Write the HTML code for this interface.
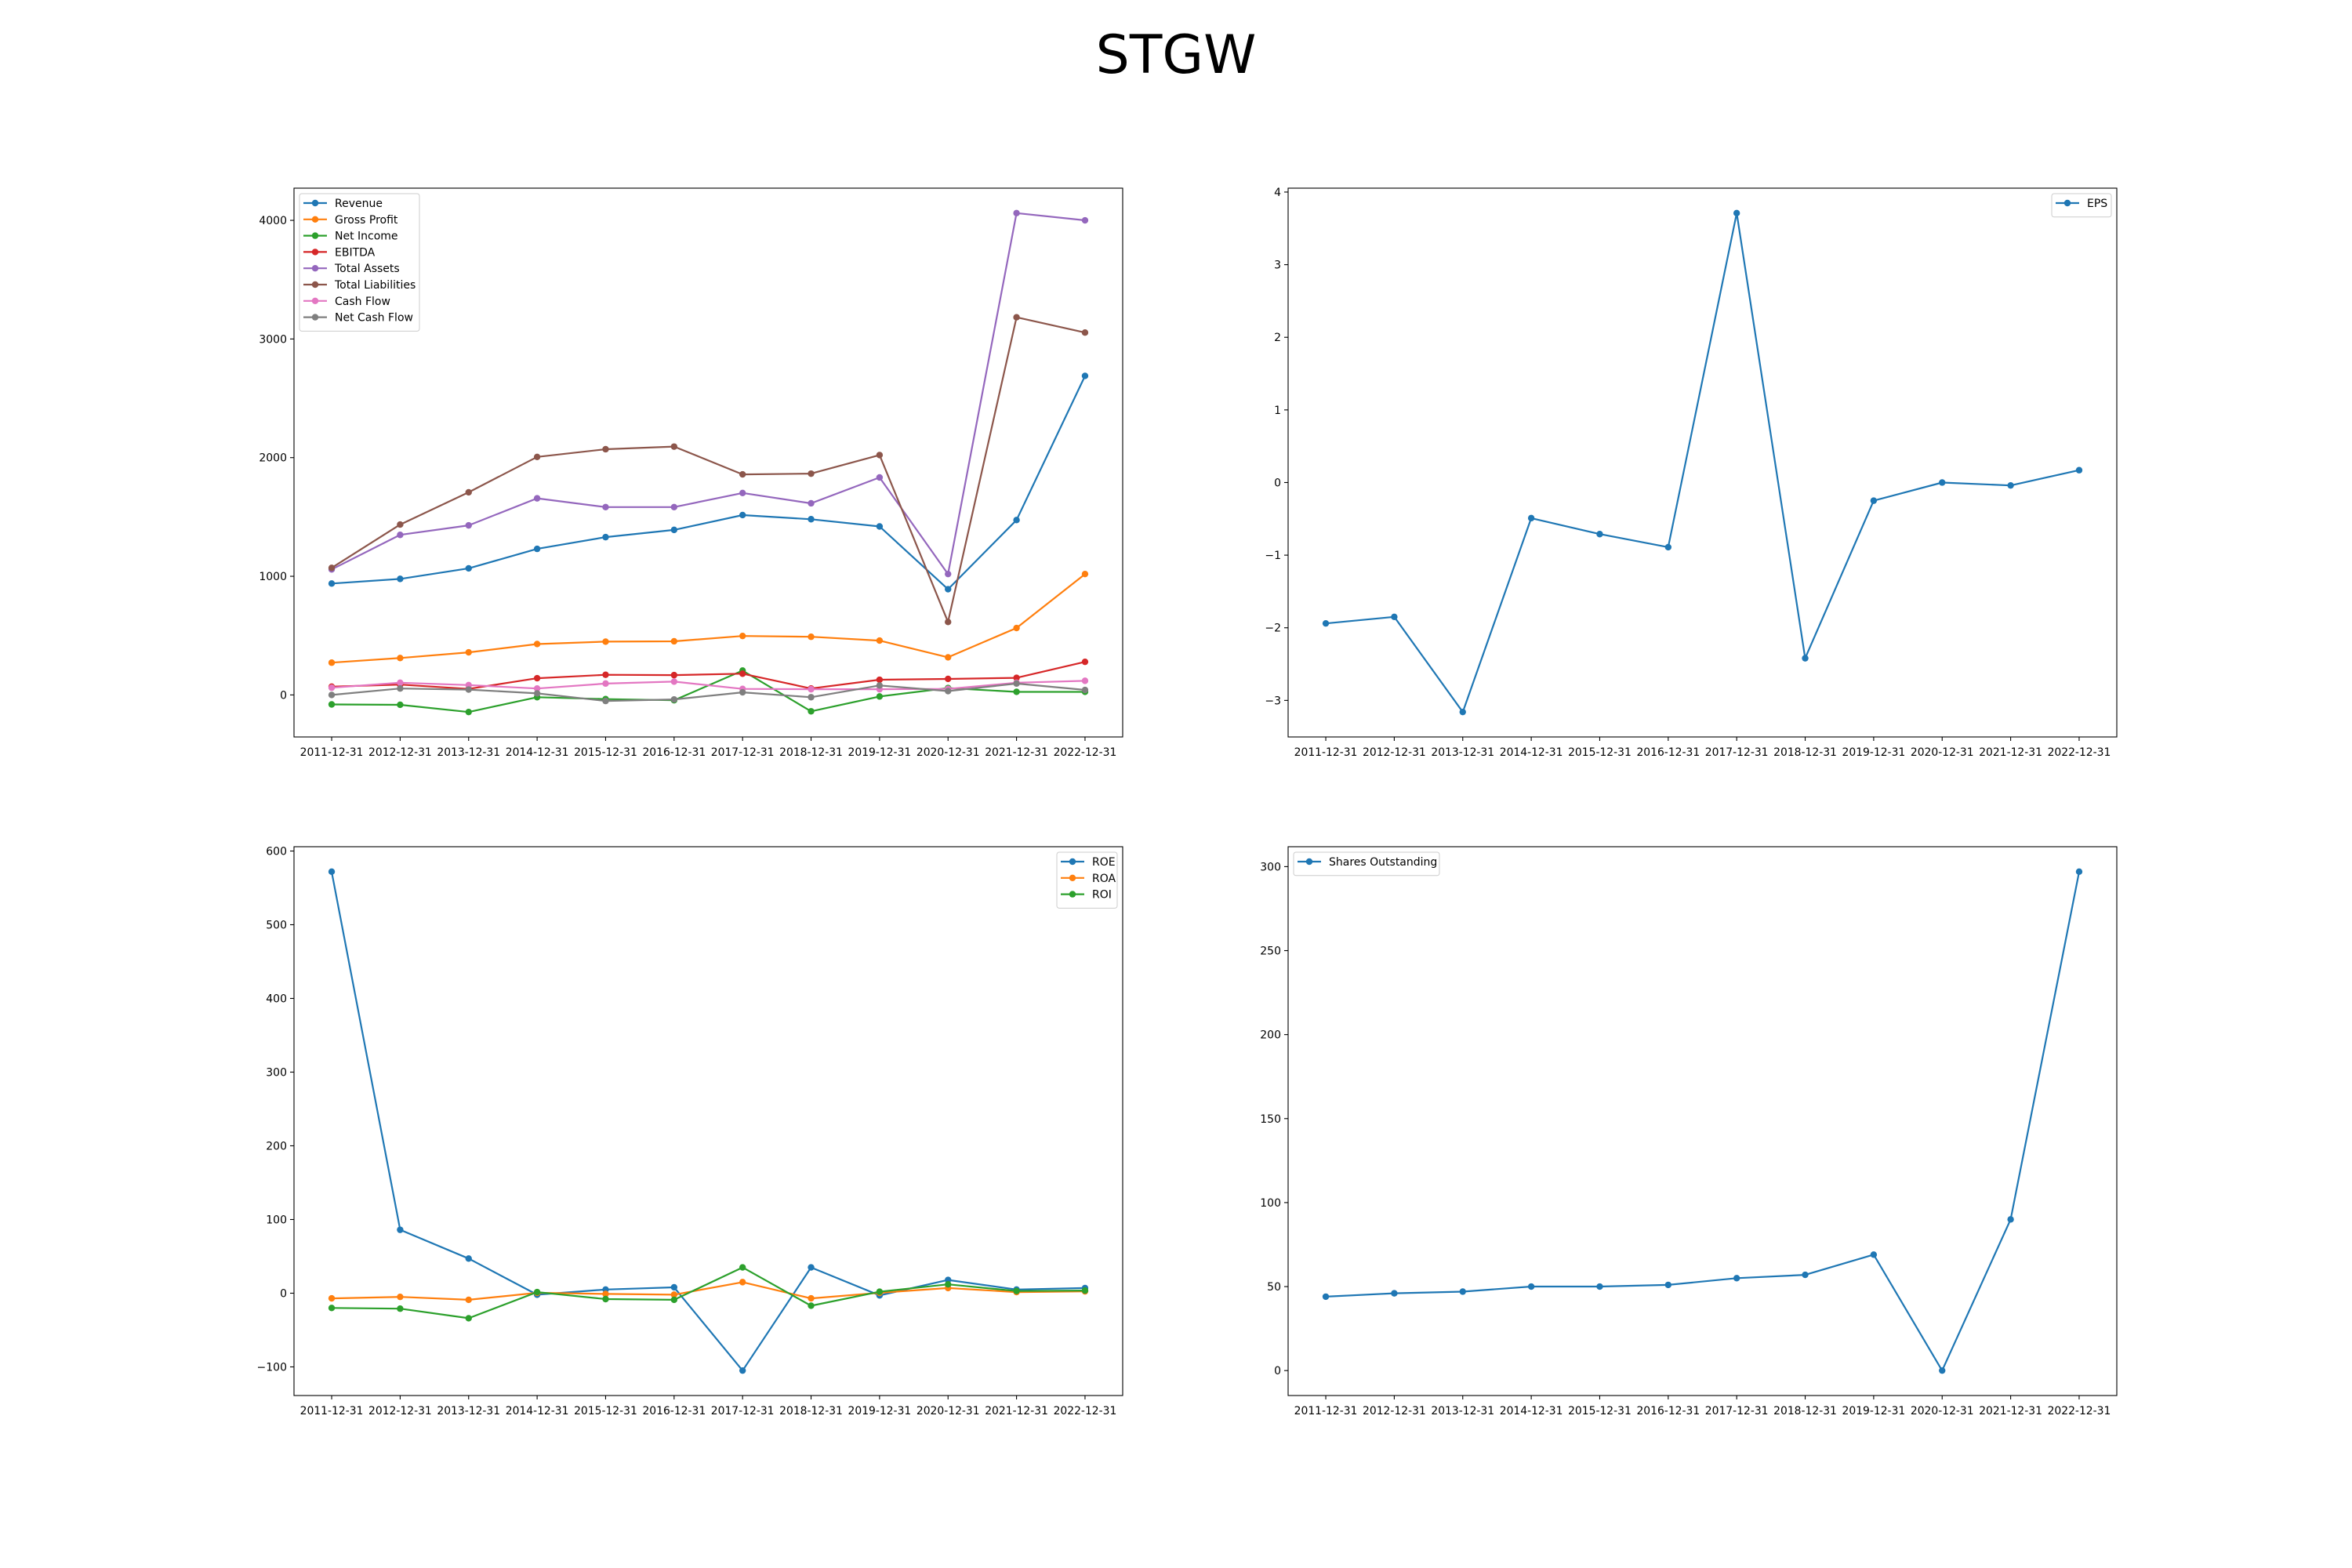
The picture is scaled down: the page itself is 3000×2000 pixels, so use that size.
<!DOCTYPE html>
<html><head><meta charset="utf-8"><style>
html,body{margin:0;padding:0;background:#fff;}
svg{display:block;font-family:"DejaVu Sans","Liberation Sans",sans-serif;}
</style></head><body>
<svg id="fig" width="3000" height="2000" viewBox="0 0 3000 2000" xmlns="http://www.w3.org/2000/svg">
<rect width="3000" height="2000" fill="#fff"/>
<text x="1500" y="93" font-size="68" text-anchor="middle" fill="#000">STGW</text>
</svg>
<script>
const categories = ["2011-12-31","2012-12-31","2013-12-31","2014-12-31","2015-12-31","2016-12-31","2017-12-31","2018-12-31","2019-12-31","2020-12-31","2021-12-31","2022-12-31"];
const revenue = [939,978,1067,1231,1330,1391,1516,1481,1420,891,1474,2689];
const grossProfit = [272,311,359,429,449,452,497,490,458,317,564,1019];
const netIncome = [-80,-83,-144,-19,-35,-45,205,-138,-13,58,26,26];
const ebitda = [70,87,51,141,170,167,179,54,128,135,144,279];
const totalAssets = [1058,1349,1429,1657,1583,1583,1702,1615,1833,1019,4061,4000];
const totalLiabilities = [1071,1436,1708,2006,2071,2093,1859,1865,2022,615,3183,3054];
const cashFlow = [61,103,83,54,96,112,51,48,48,51,103,119];
const netCashFlow = [0,54,45,13,-51,-38,22,-19,80,32,96,42];
const eps = [-1.94,-1.85,-3.16,-0.49,-0.71,-0.89,3.71,-2.42,-0.25,0.0,-0.04,0.17];
const roe = [572,86,47,-2,5,8,-105,35,-3,18,5,7];
const roa = [-7,-5,-9,0.5,-1,-2,15,-7,0.5,7,1.5,2.5];
const roi = [-20,-21,-34,1.5,-8,-9,35,-17,2,12,3,3.6];
const shares = [44,46,47,50,50,51,55,57,69,0,90,297];
const ticks1 = [0,1000,2000,3000,4000];
const ticks2 = [-3,-2,-1,0,1,2,3,4];
const ticks3 = [-100,0,100,200,300,400,500,600];
const ticks4 = [0,50,100,150,200,250,300];

const NS="http://www.w3.org/2000/svg";
const fig=document.getElementById('fig');
const C=['#1f77b4','#ff7f0e','#2ca02c','#d62728','#9467bd','#8c564b','#e377c2','#7f7f7f'];
function mk(tag,attrs,parent){const e=document.createElementNS(NS,tag);for(const k in attrs)e.setAttribute(k,attrs[k]);(parent||fig).appendChild(e);return e;}
function fmt(v){return v<0?'\u2212'+(-v):String(v);}

function panel(name,L,T,W,H,series,ticks,legendPos){
  const g=mk('g',{});
  
  
  let mn=Infinity,mx=-Infinity;
  series.forEach(s=>s.data.forEach(v=>{mn=Math.min(mn,v);mx=Math.max(mx,v);}));
  const pad=(mx-mn)*0.05;const y0=mn-pad,y1=mx+pad;
  const n=categories.length;
  const xs=i=>L+(i+0.55)/((n-1)*1.1)*W;
  const ys=v=>T+H-(v-y0)/(y1-y0)*H;
  // ticks y
  ticks.forEach(t=>{
    const y=ys(t);
    const tl=mk('line',{x1:L-5,x2:L,y1:y,y2:y,stroke:'#000','stroke-width':1.1},g);
    
    
    const tx=mk('text',{x:L-9,y:y+5,'font-size':14,'text-anchor':'end',fill:'#000'},g);
    
    
    tx.textContent=fmt(t);
  });
  categories.forEach((c,i)=>{
    const x=xs(i);
    const tl=mk('line',{x1:x,x2:x,y1:T+H,y2:T+H+5,stroke:'#000','stroke-width':1.1},g);
    
    
    const tx=mk('text',{x:x,y:T+H+24,'font-size':13.9,'text-anchor':'middle',fill:'#000'},g);
    
    
    tx.textContent=c;
  });
  series.forEach((s,k)=>{
    const col=C[k];
    const pts=s.data.map((v,i)=>xs(i).toFixed(1)+','+ys(v).toFixed(1)).join(' ');
    const pl=mk('polyline',{points:pts,fill:'none',stroke:col,'stroke-width':2.2,'stroke-linejoin':'round'},g);
    
    
    s.data.forEach((v,i)=>{
      const c=mk('circle',{cx:xs(i),cy:ys(v),r:4.2,fill:col},g);
      
      
    });
  });
  const fr=mk('rect',{x:L,y:T,width:W,height:H,fill:'none',stroke:'#000','stroke-width':1.1},g);
  
  
  // legend
  const lg=mk('g',{},g);
  
  
  const rowH=20.8;
  const maxLen=Math.max(...series.map(s=>s.label.length));
  const bw=Math.max(...series.map(s=>s.w));
  const bh=series.length*rowH+9;
  const bx=legendPos==='left'?L+7:L+W-7-bw;
  const by=T+7;
  mk('rect',{x:bx,y:by,width:bw,height:bh,rx:3,fill:'#fff','fill-opacity':0.8,stroke:'#ccc','stroke-width':1},lg);
  series.forEach((s,k)=>{
    const y=by+12+k*rowH;
    const en=mk('g',{},lg);
    
    
    mk('line',{x1:bx+5,x2:bx+35,y1:y,y2:y,stroke:C[k],'stroke-width':2.2},en);
    mk('circle',{cx:bx+20,cy:y,r:4.2,fill:C[k]},en);
    const t=mk('text',{x:bx+45,y:y+5,'font-size':14,fill:'#000'},en);
    t.textContent=s.label;
  });
}
const W=1057,H=700;
panel('financials-chart',375,240,W,H,[
 {key:'revenue',label:'Revenue',data:revenue,w:153},
 {key:'gross-profit',label:'Gross Profit',data:grossProfit,w:153},
 {key:'net-income',label:'Net Income',data:netIncome,w:153},
 {key:'ebitda',label:'EBITDA',data:ebitda,w:153},
 {key:'total-assets',label:'Total Assets',data:totalAssets,w:153},
 {key:'total-liabilities',label:'Total Liabilities',data:totalLiabilities,w:153},
 {key:'cash-flow',label:'Cash Flow',data:cashFlow,w:153},
 {key:'net-cash-flow',label:'Net Cash Flow',data:netCashFlow,w:153}
],ticks1,'left');
panel('eps-chart',1643,240,W,H,[{key:'eps',label:'EPS',data:eps,w:76}],ticks2,'right');
panel('returns-chart',375,1080,W,H,[
 {key:'roe',label:'ROE',data:roe,w:77},
 {key:'roa',label:'ROA',data:roa,w:77},
 {key:'roi',label:'ROI',data:roi,w:77}
],ticks3,'right');
panel('shares-chart',1643,1080,W,H,[{key:'shares',label:'Shares Outstanding',data:shares,w:186}],ticks4,'left');
</script>
</body></html>
